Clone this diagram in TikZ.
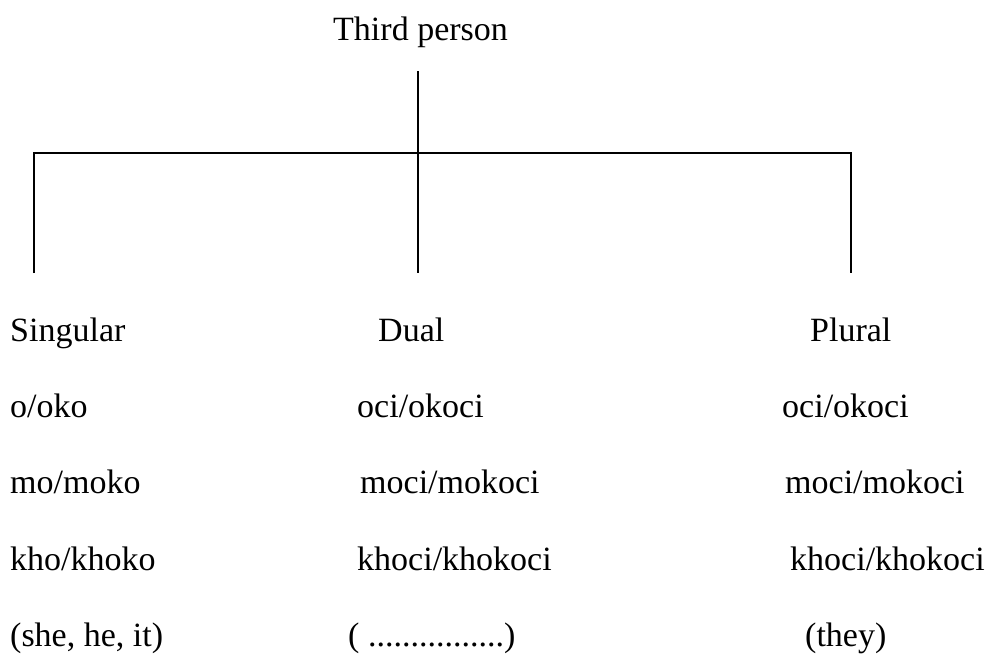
\documentclass[tikz,border=0pt]{standalone}
\usepackage{fontspec}
\setmainfont{Liberation Serif}
\begin{document}
\begin{tikzpicture}[x=1pt,y=-1pt,
  word/.style={anchor=base west,inner sep=0pt,font=\fontsize{34}{40}\selectfont},
  branch/.style={line width=2pt,line cap=butt}]
\useasboundingbox (0,0) rectangle (990,653);

% root label
\node[word] (root) at (333,40) {Third person};

% tree skeleton
\coordinate (stem) at (418,71);
\coordinate (hub) at (418,153);
\coordinate (barL) at (34,153);
\coordinate (barR) at (851,153);
\coordinate (legL) at (34,273);
\coordinate (legM) at (418,273);
\coordinate (legR) at (851,273);

\draw[branch] (stem) -- (hub);
\draw[branch] (legL) -- (barL) -- (barR) -- (legR);
\draw[branch] (hub) -- (legM);

% singular column
\node[word] (sgHead) at (10,341) {Singular};
\node[word] (sgA) at (10,417) {o/oko};
\node[word] (sgB) at (10,493) {mo/moko};
\node[word] (sgC) at (10,570) {kho/khoko};
\node[word] (sgD) at (10,646) {(she, he, it)};

% dual column
\node[word] (duHead) at (378,341) {Dual};
\node[word] (duA) at (357,417) {oci/okoci};
\node[word] (duB) at (360,493) {moci/mokoci};
\node[word] (duC) at (357,570) {khoci/khokoci};
\node[word] (duD) at (348,646) {( ................)};

% plural column
\node[word] (plHead) at (810,341) {Plural};
\node[word] (plA) at (782,417) {oci/okoci};
\node[word] (plB) at (785,493) {moci/mokoci};
\node[word] (plC) at (790,570) {khoci/khokoci};
\node[word] (plD) at (805,646) {(they)};
\end{tikzpicture}
\end{document}
